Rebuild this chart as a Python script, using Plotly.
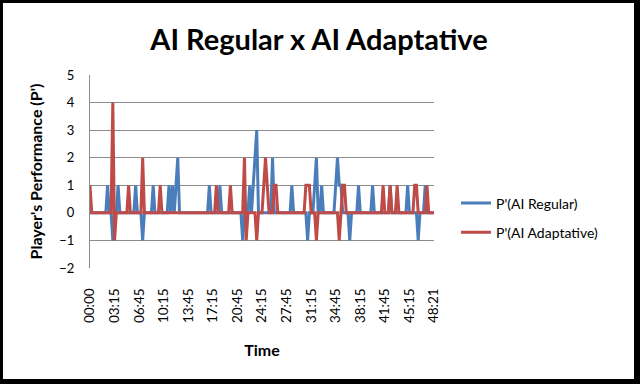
import plotly.graph_objects as go

# Tick labels of the category (time) axis, one every 14 samples
tick_labels = ["00:00", "03:15", "06:45", "10:15", "13:45", "17:15", "20:45",
               "24:15", "27:45", "31:15", "34:45", "38:15", "41:45", "45:15", "48:21"]
label_step = 14

# P'(AI Regular) per sample (rows of 14 samples)
ai_regular = [
    0, 0, 0, 0, 0, 0, 0, 0, 0, 0, 1, 0, 0, -1,
    0, 0, 1, 0, 0, 0, 0, 0, 0, 0, 0, 0, 1, 0,
    0, 0, -1, 0, 0, 0, 0, 0, 1, 0, 0, 0, 0, 0,
    0, 0, 0, 1, 0, 1, 0, 1, 2, 0, 0, 0, 0, 0,
    0, 0, 0, 0, 0, 0, 0, 0, 0, 0, 0, 0, 1, 0,
    0, 0, 0, 0, 1, 0, 0, 0, 0, 0, 0, 0, 0, 0,
    0, 0, 0, -1, 0, 0, 0, 1, 0, 1, 2, 3, 0, 0,
    0, 0, 0, 0, 0, 0, 2, 0, 0, 0, 0, 0, 0, 0,
    0, 0, 0, 1, 0, 0, 0, 0, 0, 0, 0, 0, -1, 0,
    0, 0, 1, 2, 0, 0, 1, 0, 0, 0, 0, 0, 0, 0,
    1, 2, 1, 1, 0, 0, 0, 0, -1, 0, 0, 0, 0, 1,
    0, 0, 0, 0, 0, 0, 0, 1, 0, 0, 0, 0, 0, 0,
    0, 0, 0, 1, 0, 0, 0, 0, 0, 0, 0, 0, 0, 1,
    0, 0, 0, 0, 0, -1, 0, 0, 0, 1, 0, 0, 0, 0,
    0,
]

# P'(AI Adaptative) per sample (rows of 14 samples)
ai_adaptative = [
    1, 0, 0, 0, 0, 0, 0, 0, 0, 0, 0, 0, 0, 4,
    -1, 0, 0, 0, 0, 0, 0, 0, 1, 0, 0, 0, 0, 0,
    0, 0, 2, 0, 0, 0, 0, 0, 0, 0, 0, 0, 1, 0,
    0, 0, 0, 0, 0, 0, 0, 0, 0, 0, 0, 0, 0, 0,
    0, 0, 0, 0, 0, 0, 0, 0, 0, 0, 0, 0, 0, 0,
    0, 0, 1, 0, 0, 0, 0, 0, 0, 0, 1, 0, 0, 0,
    0, 0, 0, 0, 2, -1, 0, 0, 0, 0, 0, -1, 0, 0,
    0, 1, 2, 1, 0, 0, 0, 1, 1, 0, 0, 0, 0, 0,
    0, 0, 0, 0, 0, 0, 0, 0, 0, 0, 0, 1, 1, 1,
    0, 0, 0, -1, 0, 0, 0, 0, 0, 0, 0, 0, 0, 0,
    0, 0, -1, 0, 1, 1, 0, 0, 0, 0, 0, 0, 0, 0,
    0, 0, 0, 0, 0, 0, 0, 0, 0, 0, 0, 0, 0, 1,
    0, 0, 0, 1, 0, 0, 0, 1, 0, 0, 0, 0, 0, 0,
    0, 0, 0, 1, 1, 0, 0, 0, 0, 0, 1, 0, 0, 0,
    0,
]

samples = list(range(len(ai_regular)))

W, H = 640, 384
ML, MR, MT, MB = 90, 206, 75, 116
PW, PH = W - ML - MR, H - MT - MB


def px(x):
    return (x - ML) / PW


def py(y):
    return (H - MB - y) / PH


BLUE = "#4A7EBB"
RED = "#BE4B48"
FONT = "Lato"

fig = go.Figure()
fig.add_trace(go.Scatter(x=samples, y=ai_regular, mode="lines",
                         name="P'(AI Regular)", legendgroup="a",
                         line=dict(color=BLUE, width=3)))
fig.add_trace(go.Scatter(x=samples, y=ai_adaptative, mode="lines",
                         name="P'(AI Adaptative)", legendgroup="b",
                         line=dict(color=RED, width=3)))

frame = [(0, 0, 3, H), (0, 0, W, 3), (634, 0, W, H), (0, 379, W, H)]
shapes = [dict(type="rect", xref="paper", yref="paper",
               x0=px(a), x1=px(c), y0=py(d), y1=py(b),
               fillcolor="black", line=dict(width=0), layer="above")
          for a, b, c, d in frame]

fig.update_layout(
    width=W, height=H,
    margin=dict(l=ML, r=MR, t=MT, b=MB),
    paper_bgcolor="white", plot_bgcolor="white",
    font=dict(family=FONT, color="black", size=13),
    title=dict(text="<b>AI Regular x AI Adaptative</b>", x=px(319), xanchor="center",
               xref="paper", y=1 - 40 / H, yanchor="middle",
               font=dict(family=FONT, size=29, color="black")),
    showlegend=True,
    legend=dict(x=px(456), xanchor="left", y=py(218), yanchor="middle",
                font=dict(family=FONT, size=14, color="black"),
                tracegroupgap=8, bgcolor="rgba(0,0,0,0)"),
    shapes=shapes,
)

fig.update_xaxes(
    automargin=False,
    range=[0, len(samples) - 1],
    tickvals=[i * label_step for i in range(len(tick_labels))],
    ticktext=tick_labels, tickangle=-90,
    ticks="outside", ticklen=0, ticklabelstandoff=14,
    showgrid=False, zeroline=False, showline=False,
    tickfont=dict(family=FONT, size=13.5, color="black"),
    title=dict(text="<b>Time</b>", font=dict(family=FONT, size=16, color="black"),
               standoff=22),
)
fig.update_yaxes(
    automargin=False,
    range=[-2, 5], dtick=1,
    showgrid=True, gridcolor="#8C8C8C", gridwidth=1,
    zeroline=False, showline=True, linecolor="#8C8C8C", linewidth=1,
    ticks="", ticklabelstandoff=12,
    tickfont=dict(family=FONT, size=13, color="black"),
    title=dict(text="<b>Player's Performance (P')</b>",
               font=dict(family=FONT, size=16, color="black"), standoff=12),
)

fig.write_html("out.html", config={"displayModeBar": False},
               post_script="document.body.style.margin='0px';")
